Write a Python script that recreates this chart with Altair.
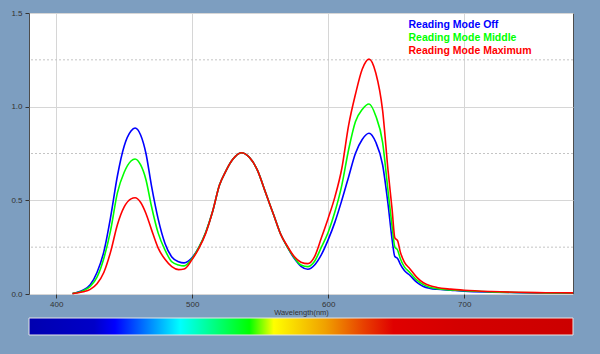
import altair as alt
import pandas as pd

# ---- data ----
wavelength = [412, 415, 420, 425, 430, 435, 440, 445, 450, 455, 458, 462, 466, 470, 475,
              480, 485, 490, 494, 500, 505, 510, 515, 520, 525, 530, 536, 542, 548, 554,
              560, 565, 570, 575, 580, 585, 590, 595, 600, 605, 610, 615, 620, 625, 630,
              635, 640, 644, 647, 649, 651, 653, 656, 660, 665, 670, 675, 680, 690, 700,
              720, 740, 760, 780]

mode_off = [0.003, 0.008, 0.022, 0.05, 0.115, 0.225, 0.41, 0.63, 0.79, 0.87, 0.886, 0.85, 0.75, 0.58, 0.40,
            0.27, 0.198, 0.172, 0.166, 0.195, 0.25, 0.33, 0.44, 0.58, 0.66, 0.72, 0.754, 0.73, 0.66, 0.54,
            0.42, 0.32, 0.25, 0.19, 0.148, 0.132, 0.155, 0.21, 0.29, 0.385, 0.50, 0.625, 0.75, 0.825, 0.858,
            0.81, 0.69, 0.48, 0.29, 0.20, 0.19, 0.16, 0.125, 0.10, 0.063, 0.04, 0.03, 0.025, 0.02, 0.015,
            0.01, 0.007, 0.005, 0.004]

mode_middle = [0.003, 0.007, 0.018, 0.04, 0.09, 0.19, 0.34, 0.54, 0.65, 0.71, 0.721, 0.69, 0.61, 0.47, 0.325,
               0.235, 0.172, 0.155, 0.15, 0.19, 0.25, 0.33, 0.44, 0.58, 0.66, 0.72, 0.754, 0.73, 0.66, 0.54,
               0.42, 0.32, 0.25, 0.195, 0.155, 0.146, 0.175, 0.25, 0.33, 0.44, 0.58, 0.77, 0.92, 0.985, 1.014,
               0.95, 0.81, 0.55, 0.36, 0.25, 0.235, 0.19, 0.145, 0.115, 0.075, 0.05, 0.035, 0.028, 0.022, 0.017,
               0.011, 0.008, 0.006, 0.005]

mode_maximum = [0.002, 0.005, 0.012, 0.025, 0.055, 0.115, 0.225, 0.37, 0.465, 0.508, 0.514, 0.49, 0.43, 0.345, 0.245,
                0.185, 0.146, 0.13, 0.133, 0.185, 0.245, 0.325, 0.44, 0.58, 0.66, 0.72, 0.754, 0.73, 0.66, 0.54,
                0.42, 0.32, 0.255, 0.20, 0.17, 0.162, 0.20, 0.30, 0.405, 0.52, 0.67, 0.90, 1.065, 1.20, 1.254,
                1.18, 0.98, 0.66, 0.45, 0.30, 0.285, 0.225, 0.17, 0.135, 0.09, 0.06, 0.044, 0.035, 0.026, 0.02,
                0.013, 0.009, 0.007, 0.006]

series_names = ["Reading Mode Off", "Reading Mode Middle", "Reading Mode Maximum"]
series_colors = ["#0000ff", "#00ff00", "#ff0000"]

x_ticks = [400, 500, 600, 700]
y_ticks = [0.0, 0.5, 1.0, 1.5]
y_dotted = [0.25, 0.75, 1.25]
spectrum_range = [380, 780]

# ---- build tables ----
rows = []
for name, vals in zip(series_names, [mode_off, mode_middle, mode_maximum]):
    for w, v in zip(wavelength, vals):
        rows.append({"wavelength": w, "value": v, "series": name})
df = pd.DataFrame(rows)

x_scale = alt.Scale(domain=[380, 780], nice=False, zero=False)
y_scale = alt.Scale(domain=[0, 1.5], nice=False)

x_axis = alt.Axis(values=x_ticks, format="d", title="Wavelength(nm)", grid=True,
                  gridColor="#d6d6d6", gridWidth=1, domain=False, tickSize=4,
                  tickColor="#333333", labelFontSize=8, labelColor="#333333",
                  labelFont="Liberation Sans", labelPadding=2, titleFontSize=7.5,
                  titleFont="Liberation Sans", titleFontWeight="normal",
                  titleColor="#333333", titlePadding=0)
y_axis = alt.Axis(values=y_ticks, format=".1f", title=None, grid=True,
                  gridColor="#d6d6d6", gridWidth=1, domain=False, tickSize=4,
                  tickColor="#333333", labelFontSize=8, labelColor="#333333",
                  labelFont="Liberation Sans", labelPadding=3)

lines = alt.Chart(df).mark_line(strokeWidth=1.6, interpolate="monotone").encode(
    x=alt.X("wavelength:Q", scale=x_scale, axis=x_axis),
    y=alt.Y("value:Q", scale=y_scale, axis=y_axis),
    color=alt.Color("series:N",
                    scale=alt.Scale(domain=series_names, range=series_colors),
                    legend=alt.Legend(title=None, orient="none", legendX=369, legendY=7,
                                      symbolOpacity=0, symbolSize=0, symbolStrokeWidth=0,
                                      labelFontSize=10.5, labelFontWeight="bold",
                                      labelFont="Liberation Sans", labelOffset=0,
                                      rowPadding=2, padding=0,
                                      labelColor={"expr": "scale('color', datum.value)"})),
    order=alt.Order("wavelength:Q"),
)

dotted = alt.Chart(pd.DataFrame({"y": y_dotted})).mark_rule(
    color="#c4c4c4", strokeDash=[2, 2], strokeWidth=1
).encode(y=alt.Y("y:Q", scale=y_scale))

spec_df = pd.DataFrame({"x": [spectrum_range[0]], "x2": [spectrum_range[1]]})
gradient = alt.Gradient(
    gradient="linear", x1=0, x2=1, y1=0, y2=0,
    stops=[
        alt.GradientStop(offset=0.0, color="#0000b0"),
        alt.GradientStop(offset=0.12, color="#0000c8"),
        alt.GradientStop(offset=0.158, color="#0000ff"),
        alt.GradientStop(offset=0.278, color="#00ffff"),
        alt.GradientStop(offset=0.405, color="#00ff00"),
        alt.GradientStop(offset=0.45, color="#ffff00"),
        alt.GradientStop(offset=0.545, color="#f0a000"),
        alt.GradientStop(offset=0.615, color="#e84000"),
        alt.GradientStop(offset=0.67, color="#e00000"),
        alt.GradientStop(offset=0.79, color="#d40000"),
        alt.GradientStop(offset=1.0, color="#cc0000"),
    ],
)
spectrum = alt.Chart(spec_df).mark_rect(
    fill=gradient, stroke="#e6e6e6", strokeWidth=1, clip=False
).encode(
    x=alt.X("x:Q", scale=x_scale),
    x2="x2:Q",
    y=alt.value(305),
    y2=alt.value(322),
)

chart = alt.layer(dotted, lines, spectrum).properties(
    width=544, height=281,
    autosize=alt.AutoSizeParams(type="none"),
    padding={"left": 29, "top": 13, "right": 27, "bottom": 60},
    background="#7d9ec0",
).configure_view(fill="white", stroke="#4d4d4d", strokeWidth=1)

chart.save("out.html", embed_options={"renderer": "svg", "actions": False})
